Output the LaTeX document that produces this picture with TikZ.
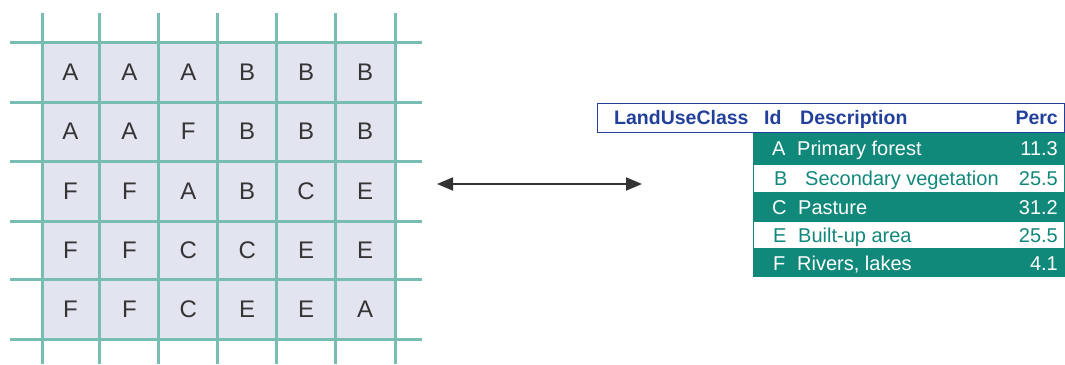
\documentclass[tikz,border=0pt]{standalone}
\usepackage{fontspec}
\setmainfont{Liberation Sans}
\usetikzlibrary{arrows.meta}
\definecolor{gridline}{HTML}{78BDB2}
\definecolor{cellfill}{HTML}{E2E4F0}
\definecolor{celltext}{HTML}{353535}
\definecolor{tealrow}{HTML}{10887A}
\definecolor{hdrblue}{HTML}{22409A}
\begin{document}
\begin{tikzpicture}[x=1pt,y=-1pt,
  gridl/.style={draw=gridline,line width=3pt},
  celllabel/.style={anchor=base,inner sep=0pt,text=celltext,font=\fontsize{24}{24}\selectfont},
  hdrbox/.style={draw=hdrblue,line width=1pt,fill=white},
  filledrow/.style={fill=tealrow},
  openrow/.style={draw=tealrow,line width=1.3pt,fill=white},
  hdrtext/.style={inner sep=0pt,text=hdrblue,font=\fontsize{19.5}{19.5}\selectfont\bfseries},
  filledtext/.style={inner sep=0pt,text=white,font=\fontsize{20}{20}\selectfont},
  opentext/.style={inner sep=0pt,text=tealrow,font=\fontsize{20}{20}\selectfont},
  link/.style={draw=black!80,line width=1.8pt,{Triangle[length=16pt,width=13pt]}-{Triangle[length=16pt,width=13pt]}}
]
\useasboundingbox (0,0) rectangle (1065,364);
% raster grid
\fill[cellfill] (42,42) rectangle (395,339);
\foreach \x in {42,99,158,217,276,335,395} \draw[gridl] (\x,13) -- (\x,364);
\foreach \y in {42,102,161,221,279,339} \draw[gridl] (10,\y) -- (422,\y);
\foreach \row [count=\r] in {{A,A,A,B,B,B},{A,A,F,B,B,B},{F,F,A,B,C,E},{F,F,C,C,E,E},{F,F,C,E,E,A}}{
  \foreach \l [count=\c] in \row {
    \pgfmathsetmacro{\cx}{70.5+(\c-1)*58.9}
    \pgfmathsetmacro{\cy}{72+(\r-1)*59.25+8.5}
    \node[celllabel] (cell-\r-\c) at (\cx,\cy) {\l};
  }
}
% arrow
\coordinate (arrowL) at (437,184);
\coordinate (arrowR) at (642,184);
\draw[link] (arrowL) -- (arrowR);
% table header
\draw[hdrbox] (597,103) rectangle (1064,132);
\node[hdrtext,anchor=base west] (hLUC) at (614,124.5) {LandUseClass};
\node[hdrtext,anchor=base west] (hId) at (764,124.5) {Id};
\node[hdrtext,anchor=base west] (hDesc) at (800,124.5) {Description};
\node[hdrtext,anchor=base east] (hPerc) at (1058,124.5) {Perc};
% rows
\fill[filledrow] (753,133) rectangle (1065,164);
\draw[openrow] (753.6,164.6) rectangle (1064.4,192.4);
\fill[filledrow] (753,193) rectangle (1065,221);
\draw[openrow] (753.6,221.6) rectangle (1064.4,248.4);
\fill[filledrow] (753,249) rectangle (1065,277);
% row texts
\node[filledtext,anchor=base west] (idA) at (772,155.8) {A};
\node[filledtext,anchor=base west] (dA) at (797,155.8) {Primary forest};
\node[filledtext,anchor=base east] (pA) at (1058,155.8) {11.3};
\node[opentext,anchor=base west] (idB) at (774,185.5) {B};
\node[opentext,anchor=base west] (dB) at (805,185.5) {Secondary vegetation};
\node[opentext,anchor=base east] (pB) at (1058,185.5) {25.5};
\node[filledtext,anchor=base west] (idC) at (772,214) {C};
\node[filledtext,anchor=base west] (dC) at (798,214) {Pasture};
\node[filledtext,anchor=base east] (pC) at (1058,214) {31.2};
\node[opentext,anchor=base west] (idE) at (773,242) {E};
\node[opentext,anchor=base west] (dE) at (798,242) {Built-up area};
\node[opentext,anchor=base east] (pE) at (1058,242) {25.5};
\node[filledtext,anchor=base west] (idF) at (773,270.5) {F};
\node[filledtext,anchor=base west] (dF) at (797,270.5) {Rivers, lakes};
\node[filledtext,anchor=base east] (pF) at (1058,270.5) {4.1};
\end{tikzpicture}
\end{document}
